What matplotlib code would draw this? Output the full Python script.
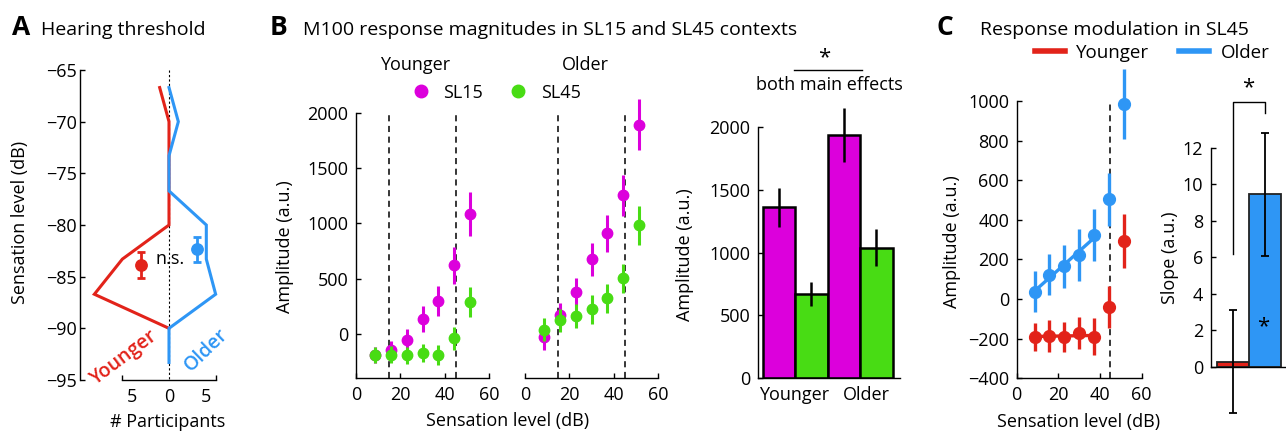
import numpy as np
import matplotlib
matplotlib.use('Agg')
import matplotlib.pyplot as plt
from matplotlib.lines import Line2D

plt.rcParams['font.family'] = ['Open Sans', 'DejaVu Sans']
plt.rcParams['font.size'] = 13

# ---------------- data ----------------
# Panel A: hearing-threshold histograms
thr_bins = [-66.7, -70.0, -73.3, -76.7, -80.0, -83.3, -86.7, -90.0, -93.3]
thr_count_younger = [1, 0, 0, 0, 0, 5, 8, 0, 0]
thr_count_older = [0, 1, 0, 0, 4, 4, 5, 0, 0]
thr_groups = ['Younger', 'Older']
thr_mean = [-83.9, -82.35]
thr_sem = [1.25, 1.2]

# Panel B: M100 amplitudes per sensation level
sl_levels = [8.6, 15.7, 22.9, 30.0, 37.1, 44.3, 51.4]
young_sl15 = [-190, -145, -54, 132, 298, 620, 1084]
young_sl15_err = [75, 80, 96, 117, 135, 170, 196]
young_sl45 = [-190, -186, -192, -173, -190, -40, 292]
young_sl45_err = [70, 80, 76, 80, 93, 107, 135]
old_sl15 = [-30, 172, 380, 675, 910, 1253, 1892]
old_sl15_err = [110, 105, 130, 148, 166, 184, 229]
old_sl45 = [38, 124, 165, 222, 324, 503, 983]
old_sl45_err = [103, 103, 108, 133, 131, 133, 177]
context_levels = [15, 45]

bar_labels = ['Younger', 'Older']
bar_means = [1359, 670, 1934, 1038]
bar_err = [156, 99, 216, 148]

# Panel C: slopes
slope_means = [0.28, 9.45]
slope_err = [2.8, 3.37]

# ---------------- style ----------------
MAG = '#DC00DC'
GRN = '#48DC14'
RED = '#E2231A'
BLU = '#2E96F5'
W, H = 1286, 433

fig = plt.figure(figsize=(W / 100, H / 100), dpi=100)


def axpx(l, t, r, b):
    return fig.add_axes([l / W, 1 - b / H, (r - l) / W, (b - t) / H])


def fx(x):
    return x / W


def fy(y):
    return 1 - y / H


def style(ax, pad=5.4):
    for s in ['top', 'right']:
        ax.spines[s].set_visible(False)
    for s in ['left', 'bottom']:
        ax.spines[s].set_linewidth(1.0)
    ax.tick_params(direction='in', length=3.5, width=1.0, labelsize=13, pad=pad)
    ax.patch.set_alpha(0)


# ---------------- Panel A ----------------
axA = axpx(80, 70, 258, 380)
style(axA, pad=2.5)
axA.plot([0, 0], [-65, -95], color='k', lw=0.8, ls=(0, (2, 2)), zorder=1)
axA.plot(-np.array(thr_count_younger[:8]), thr_bins[:8], color=RED, lw=2.2, zorder=2,
         solid_joinstyle='miter')
axA.plot(np.array(thr_count_older), thr_bins, color=BLU, lw=2.2, zorder=3,
         solid_joinstyle='miter')
for xpos, m, e, c in zip([-3, 3], thr_mean, thr_sem, [RED, BLU]):
    axA.errorbar([xpos], [m], yerr=[e], fmt='o', color=c, ms=8.2, lw=2, capsize=3, capthick=2)
axA.text(0.1, -83.3, 'n.s.', ha='center', va='center', fontsize=13)
axA.set_ylim(-95, -65)
axA.set_xlim(-9.54, 9.54)
axA.set_yticks(np.arange(-95, -64, 5))
axA.spines['bottom'].set_bounds(-5, 5)
axA.set_xticks([-4, 0, 4])
axA.set_xticklabels(['5', '0', '5'])
axA.tick_params(axis='x', length=0, pad=6)
axA.set_xticks([-5, 0, 5], minor=True)
axA.tick_params(axis='x', which='minor', direction='in', length=3.5, width=1.0)
axA.text(-4.8, -92.8, 'Younger', color=RED, rotation=37, ha='center', va='center',
         fontsize=14, fontweight='semibold')
axA.text(4.0, -92.1, 'Older', color=BLU, rotation=44, ha='center', va='center',
         fontsize=14, fontweight='semibold')
fig.text(fx(20), fy(222), 'Sensation level (dB)', rotation=90, ha='center', va='center', fontsize=13)
fig.text(fx(167.5), fy(421.7), '# Participants', ha='center', va='center', fontsize=13)

# ---------------- Panel B ----------------
def amp_panel(ax, s15, e15, s45, e45):
    for xv in context_levels:
        ax.plot([xv, xv], [-400, 2000], color='k', lw=1.1, ls=(0, (4, 3)), zorder=1)
    ax.errorbar(sl_levels, s15, yerr=e15, fmt='o', color=MAG, ms=7.5, lw=2.2,
                capsize=0, zorder=3, clip_on=False)
    ax.errorbar(sl_levels, s45, yerr=e45, fmt='o', color=GRN, ms=7.5, lw=2.2,
                capsize=0, zorder=4, clip_on=False)
    ax.set_xlim(0, 60)
    ax.set_ylim(-400, 2000)
    ax.set_xticks([0, 20, 40, 60])


axBy = axpx(356, 112.7, 489.3, 378.3)
style(axBy)
amp_panel(axBy, young_sl15, young_sl15_err, young_sl45, young_sl45_err)
axBy.set_yticks([0, 500, 1000, 1500, 2000])

axBo = axpx(525, 112.7, 658.3, 378.3)
style(axBo)
amp_panel(axBo, old_sl15, old_sl15_err, old_sl45, old_sl45_err)
axBo.spines['left'].set_visible(False)
axBo.set_yticks([])

fig.text(fx(414.7), fy(65), 'Younger', ha='center', va='center', fontsize=13)
fig.text(fx(585), fy(65), 'Older', ha='center', va='center', fontsize=13)
fig.text(fx(285), fy(246.7), 'Amplitude (a.u.)', rotation=90, ha='center', va='center', fontsize=13)
fig.text(fx(508), fy(421), 'Sensation level (dB)', ha='center', va='center', fontsize=13)

hB = [Line2D([], [], ls='', marker='o', ms=9, color=MAG),
      Line2D([], [], ls='', marker='o', ms=9, color=GRN)]
fig.legend(hB, ['SL15', 'SL45'], loc='center left', bbox_to_anchor=(fx(411.7), fy(92.7)),
           ncol=2, frameon=False, handlelength=1.0, handletextpad=0.75, columnspacing=1.45,
           borderpad=0, borderaxespad=0, fontsize=13)

# bar chart
axBb = axpx(757.7, 126.7, 900, 378.3)
style(axBb)
bx = np.arange(1, len(bar_means) + 1)
axBb.bar(bx, bar_means, width=1.0, color=[MAG, GRN, MAG, GRN], edgecolor='k', lw=1.8, zorder=2)
axBb.errorbar(bx, bar_means, yerr=bar_err, fmt='none', ecolor='k', lw=1.8, capsize=0,
              zorder=3, clip_on=False)
axBb.set_xlim(0.35, 4.73)
axBb.set_ylim(0, 2000)
axBb.set_yticks([0, 500, 1000, 1500, 2000])
axBb.set_xticks([1.46, 3.7])
axBb.set_xticklabels(bar_labels)
axBb.tick_params(axis='x', length=0)
fig.text(fx(685), fy(255), 'Amplitude (a.u.)', rotation=90, ha='center', va='center', fontsize=13)
fig.text(fx(824), fy(58), '*', ha='center', va='center', fontsize=16)
fig.add_artist(Line2D([fx(794), fx(861.7)], [fy(70), fy(70)], color='k', lw=1.0))
fig.text(fx(829), fy(85), 'both main effects', ha='center', va='center', fontsize=13)

# ---------------- Panel C ----------------
axC = axpx(1016.7, 101, 1141.7, 378.3)
style(axC)
axC.plot([45, 45], [-400, 1000], color='k', lw=1.1, ls=(0, (4, 3)), zorder=1)
for vals, errs, c in [(young_sl45, young_sl45_err, RED), (old_sl45, old_sl45_err, BLU)]:
    xs = np.array(sl_levels[:5])
    p = np.polyfit(xs, vals[:5], 1)
    axC.plot(xs[[0, -1]], np.polyval(p, xs[[0, -1]]), color=c, lw=2.4, zorder=2)
    axC.errorbar(sl_levels, vals, yerr=errs, fmt='o', color=c, ms=8.5, lw=2.4,
                 capsize=0, zorder=3, clip_on=False)
axC.set_xlim(0, 60)
axC.set_ylim(-400, 1000)
axC.set_xticks([0, 20, 40, 60])
axC.set_yticks(np.arange(-400, 1001, 200))
fig.text(fx(951.7), fy(241.7), 'Amplitude (a.u.)', rotation=90, ha='center', va='center', fontsize=13)
fig.text(fx(1079), fy(421.7), 'Sensation level (dB)', ha='center', va='center', fontsize=13)

hC = [Line2D([], [], color=RED, lw=4), Line2D([], [], color=BLU, lw=4)]
fig.legend(hC, thr_groups, loc='center left', bbox_to_anchor=(fx(1035), fy(53)),
           ncol=2, frameon=False, handlelength=1.6, handletextpad=0.6, columnspacing=1.6,
           borderpad=0, borderaxespad=0, fontsize=13.5)

axS = axpx(1210.7, 147.7, 1286, 366.7)
style(axS)
axS.bar([1, 2], slope_means, width=1.0, color=[RED, BLU], edgecolor='#222222', lw=1.3, zorder=2)
axS.errorbar([1, 2], slope_means, yerr=slope_err, fmt='none', ecolor='k', lw=1.3,
             capsize=3, capthick=1.3, zorder=3, clip_on=False)
axS.set_xlim(0.32, 2.64)
axS.set_ylim(0, 12)
axS.set_yticks([0, 2, 4, 6, 8, 10, 12])
axS.set_xticks([])
axS.plot([1, 1, 2, 2], [6.2, 14.5, 14.5, 13.9], color='k', lw=1.0, clip_on=False)
axS.text(1.48, 15.3, '*', ha='center', va='center', fontsize=16)
axS.text(1.94, 2.2, '*', ha='center', va='center', fontsize=16)
fig.text(fx(1170), fy(258), 'Slope (a.u.)', rotation=90, ha='center', va='center', fontsize=13)

# ---------------- titles ----------------
for lx, tx, letter, title in [(12, 40.7, 'A', 'Hearing threshold'),
                              (270, 303, 'B', 'M100 response magnitudes in SL15 and SL45 contexts'),
                              (936.7, 980, 'C', 'Response modulation in SL45')]:
    fig.text(fx(lx), fy(35), letter, ha='left', va='baseline', fontsize=19, fontweight='bold')
    fig.text(fx(tx), fy(35), title, ha='left', va='baseline', fontsize=14)

fig.savefig('out.png', dpi=100)
